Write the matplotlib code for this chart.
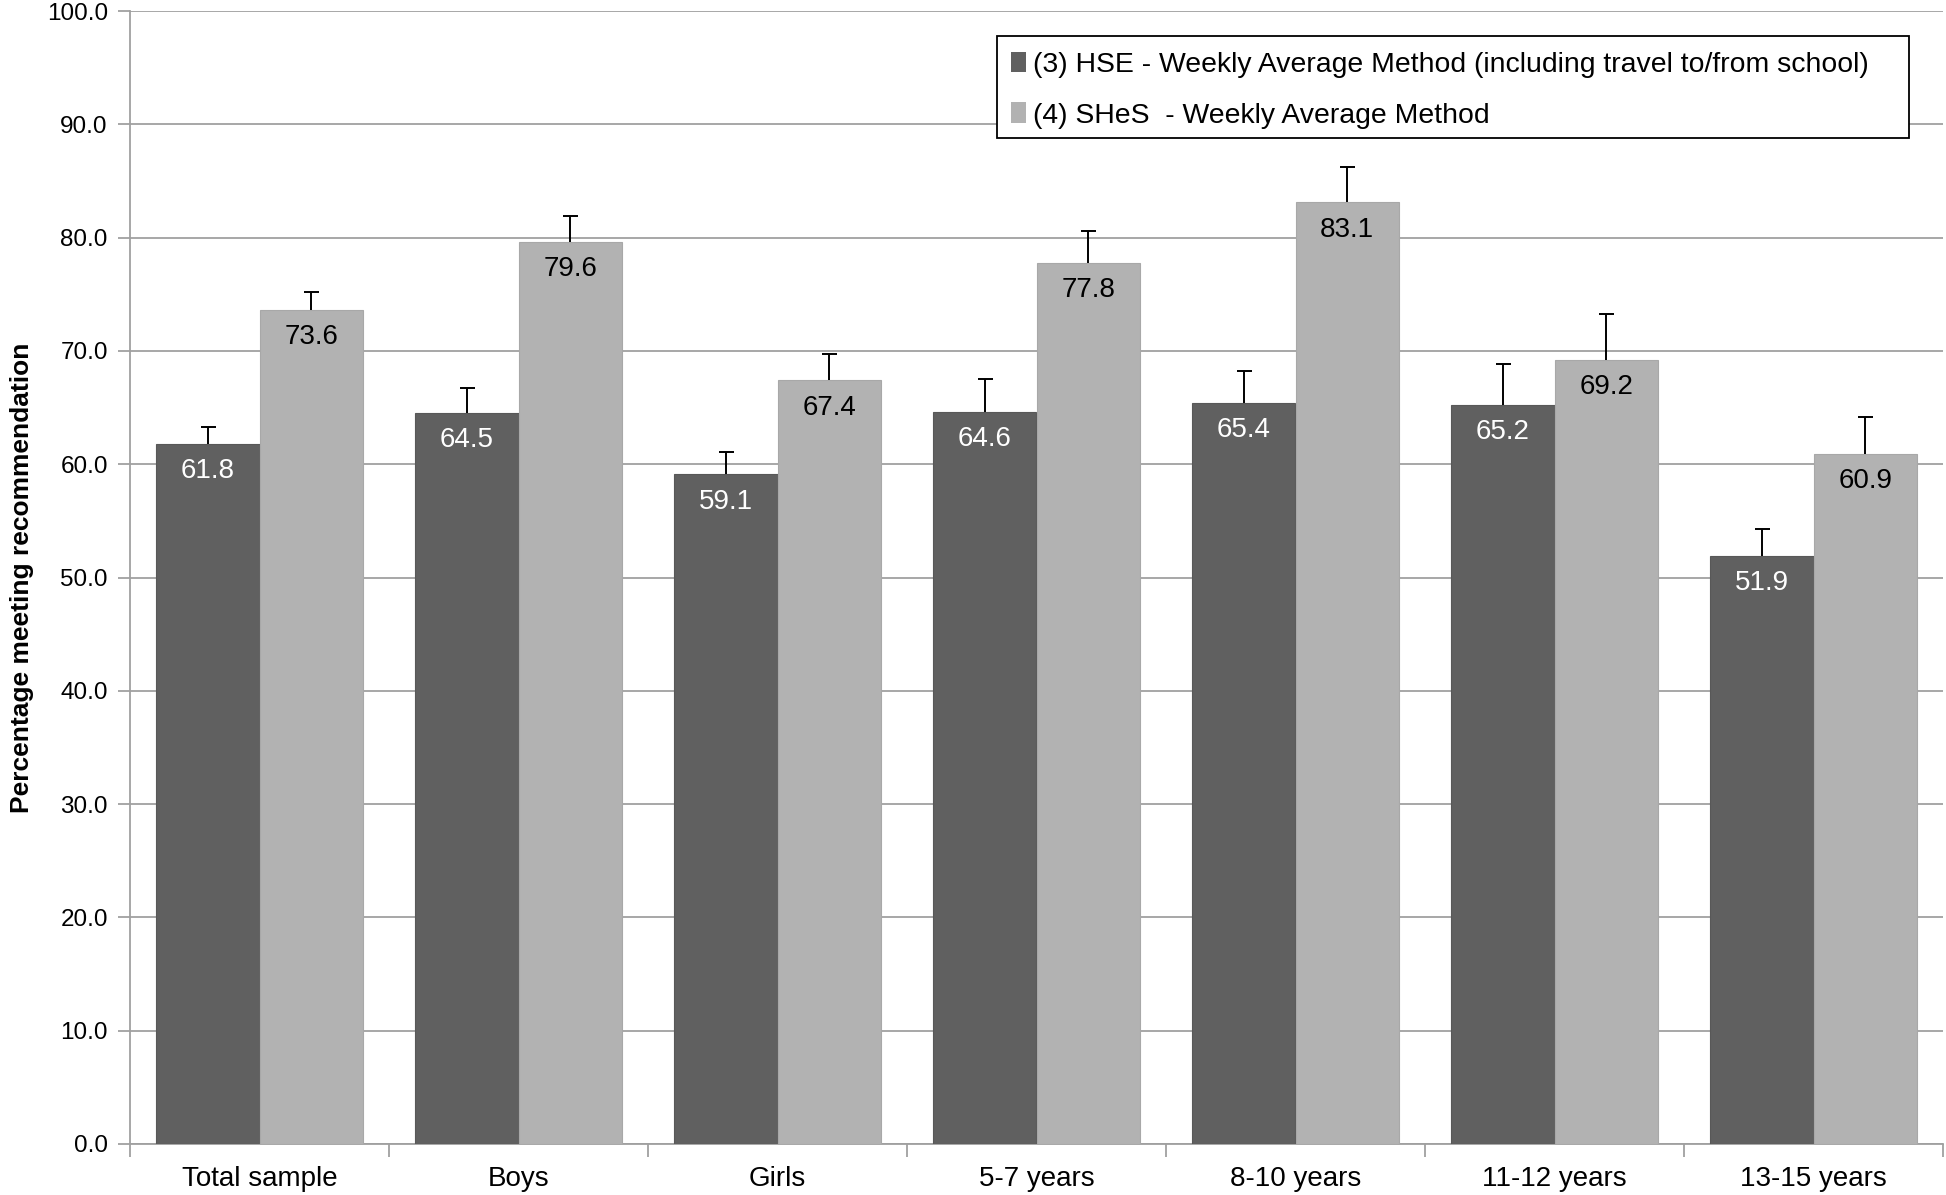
import matplotlib
matplotlib.use("Agg")
import matplotlib.pyplot as plt
from matplotlib.patches import Rectangle
import numpy as np

categories = ["Total sample", "Boys", "Girls", "5-7 years", "8-10 years", "11-12 years", "13-15 years"]
hse_values = [61.8, 64.5, 59.1, 64.6, 65.4, 65.2, 51.9]
shes_values = [73.6, 79.6, 67.4, 77.8, 83.1, 69.2, 60.9]
hse_upper = [63.3, 66.7, 61.1, 67.5, 68.2, 68.8, 54.3]
shes_upper = [75.2, 81.9, 69.7, 80.6, 86.2, 73.3, 64.2]
series_labels = ["(3) HSE - Weekly Average Method (including travel to/from school)",
                 "(4) SHeS  - Weekly Average Method"]
yticks = [0, 10, 20, 30, 40, 50, 60, 70, 80, 90, 100]

plt.rcParams['font.family'] = ['Liberation Sans', 'DejaVu Sans']

W, H = 1946, 1195
fig = plt.figure(figsize=(W/100, H/100), dpi=100)
ax = fig.add_axes([130/W, 1 - 1144/H, (1943-130)/W, (1144-11)/H])

x = np.arange(len(categories))
w = 0.4
dark = "#606060"
light = "#b2b2b2"
ax.bar(x - w/2, hse_values, w, color=dark, edgecolor="#585858", linewidth=0.8, label=series_labels[0], zorder=3)
ax.bar(x + w/2, shes_values, w, color=light, edgecolor="#a8a8a8", linewidth=0.8, label=series_labels[1], zorder=3)

hv = np.array(hse_values); sv = np.array(shes_values)
for xs, vals, ups in [(x - w/2, hv, np.array(hse_upper)), (x + w/2, sv, np.array(shes_upper))]:
    _, caps, _ = ax.errorbar(xs, vals, yerr=[np.zeros_like(vals), ups - vals], fmt='none',
                             ecolor='black', elinewidth=1.4, capsize=5.4, capthick=1.4, zorder=4)
    if len(caps) == 2:
        caps[0].set_visible(False)

for xi, v in zip(x - w/2, hse_values):
    ax.text(xi, v - 2.4, f"{v:.1f}", ha='center', va='center', color='white', fontsize=20, zorder=5)
for xi, v in zip(x + w/2, shes_values):
    ax.text(xi, v - 2.4, f"{v:.1f}", ha='center', va='center', color='black', fontsize=20, zorder=5)

ax.set_xlim(-0.5, len(categories) - 0.5)
ax.set_ylim(0, 100)
ax.set_yticks(yticks)
ax.set_yticklabels([f"{t:.1f}" for t in yticks], fontsize=17.5)
ax.yaxis.grid(True, color="#a0a0a0", linewidth=1.3, zorder=0)
ax.set_axisbelow(True)

ax.set_xticks(x)
ax.set_xticklabels(categories, fontsize=20)
ax.tick_params(axis='x', which='major', length=0, pad=16)
ax.set_xticks(np.arange(-0.5, len(categories), 1.0), minor=True)
ax.tick_params(axis='x', which='minor', length=9, color="#a0a0a0", width=1.3, direction='out')
ax.tick_params(axis='y', length=9, color="#a0a0a0", width=1.3, direction='out', pad=7)

for s in ['top', 'right']:
    ax.spines[s].set_visible(False)
for s in ['left', 'bottom']:
    ax.spines[s].set_color("#a0a0a0")
    ax.spines[s].set_linewidth(1.3)

ax.set_ylabel("Percentage meeting recommendation", fontsize=19, fontweight='bold')
ax.yaxis.set_label_coords((34 - 130) / 1813, 0.5)

# legend frame drawn as a rectangle in figure coordinates, below the legend
frame = Rectangle((997/W, 1 - 138/H), (1909-997)/W, (138-36)/H,
                  transform=fig.transFigure, facecolor='white',
                  edgecolor='black', linewidth=1.3, zorder=6, clip_on=False)
ax.add_patch(frame)
leg = ax.legend(loc='upper left', bbox_to_anchor=(1003/W, 1 - 43/H), bbox_transform=fig.transFigure,
                fontsize=20.4, frameon=False,
                handlelength=0.5, handleheight=0.75, handletextpad=0.25, labelspacing=0.87,
                borderpad=0.3, borderaxespad=0)
leg.set_zorder(7)
for h in leg.legend_handles:
    h.set_edgecolor('none')

fig.savefig("out.png", dpi=100)
